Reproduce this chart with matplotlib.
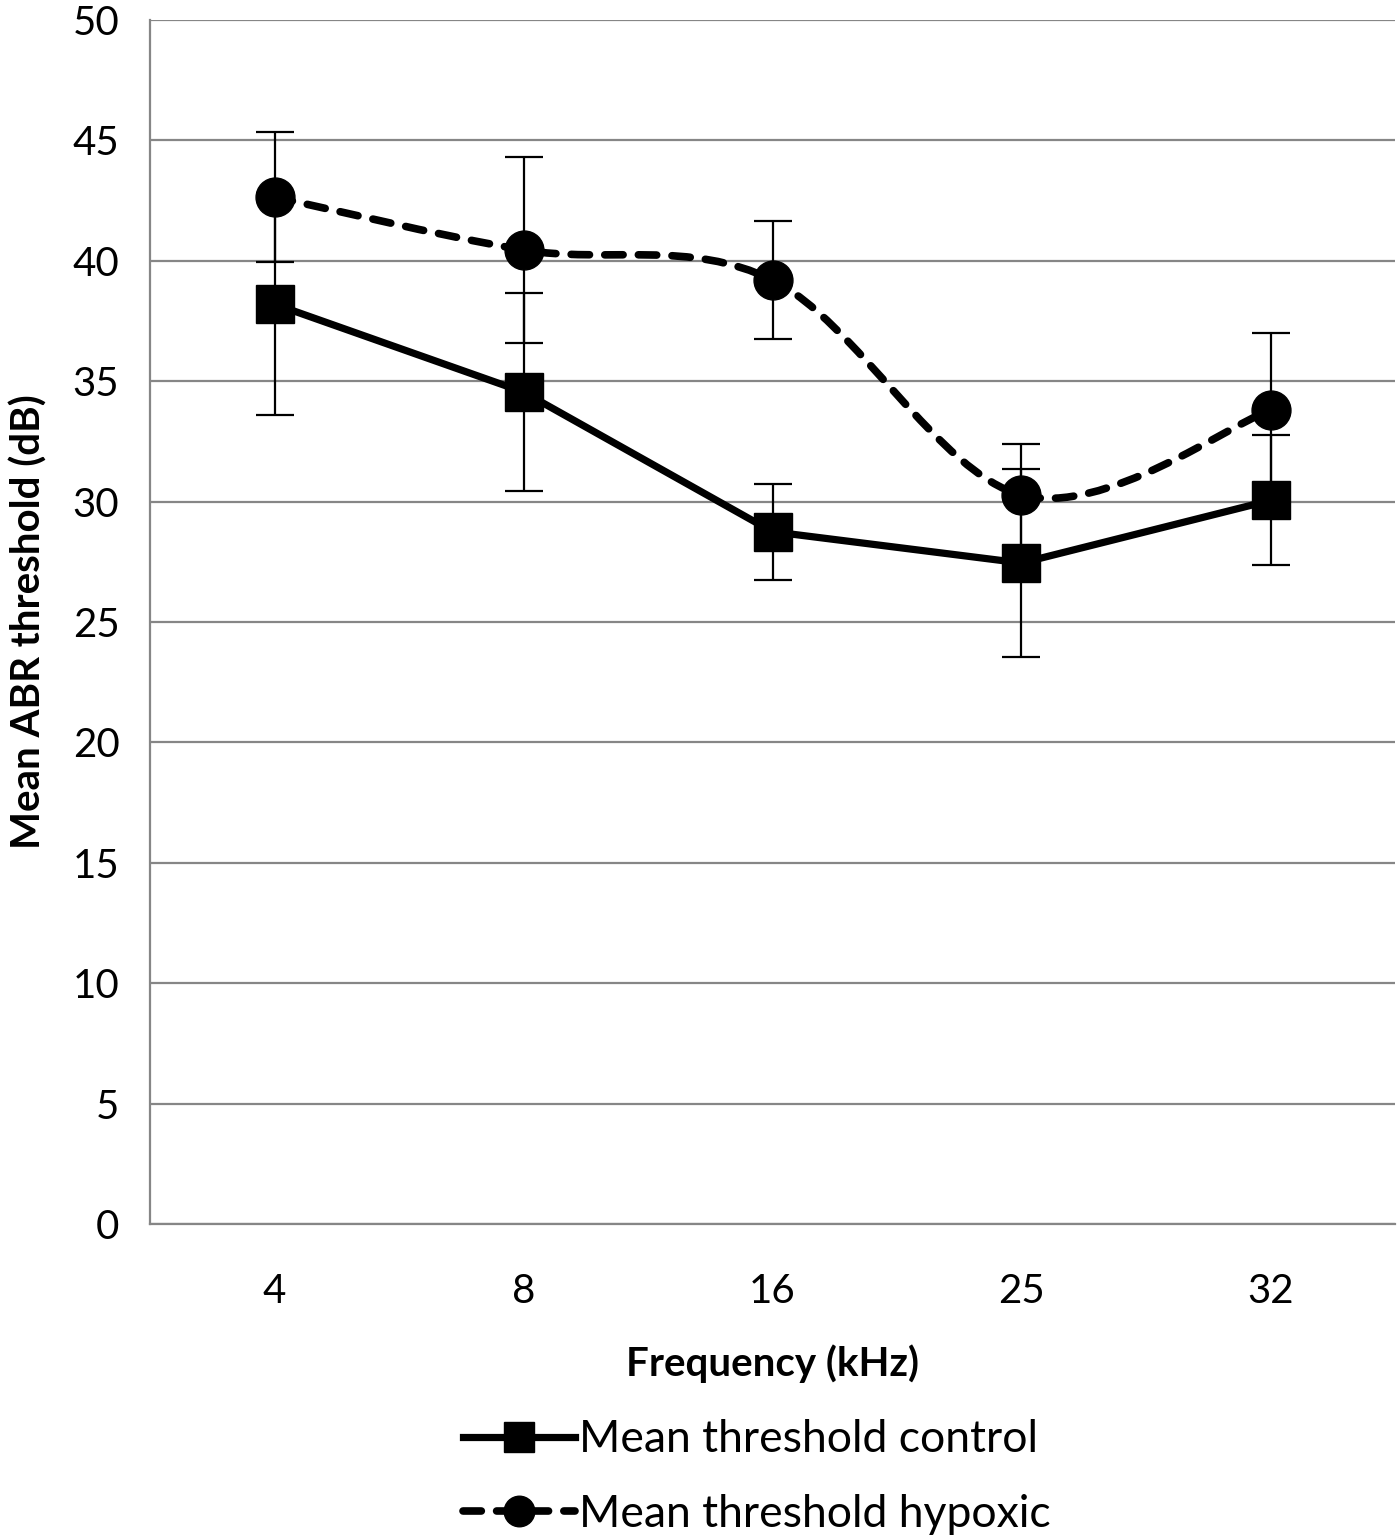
#!/usr/bin/env python
import numpy as np
import matplotlib
matplotlib.use('Agg')
import matplotlib.pyplot as plt
from matplotlib.path import Path
from matplotlib.patches import PathPatch
from matplotlib.lines import Line2D

freqs = ['4', '8', '16', '25', '32']
control_mean = [38.2, 34.55, 28.75, 27.45, 30.05]
control_err = [4.6, 4.1, 2.0, 3.9, 2.7]
hypoxic_mean = [42.65, 40.45, 39.2, 30.27, 33.8]
hypoxic_err = [2.7, 3.85, 2.45, 2.13, 3.2]

plt.rcParams['font.family'] = ['Lato', 'DejaVu Sans']


def smooth_path(xs, ys):
	# bezier through the points, like a smoothed office chart line
	xs = np.asarray(xs, float)
	ys = np.asarray(ys, float)
	px = np.concatenate([[xs[0]], xs, [xs[-1]]])
	py = np.concatenate([[ys[0]], ys, [ys[-1]]])
	verts = [(xs[0], ys[0])]
	codes = [Path.MOVETO]
	for i in range(1, len(xs)):
		c1 = (px[i] + (px[i + 1] - px[i - 1]) / 6., py[i] + (py[i + 1] - py[i - 1]) / 6.)
		c2 = (px[i + 1] - (px[i + 2] - px[i]) / 6., py[i + 1] - (py[i + 2] - py[i]) / 6.)
		verts += [c1, c2, (px[i + 1], py[i + 1])]
		codes += [Path.CURVE4] * 3
	return Path(verts, codes)


fig = plt.figure(figsize=(14, 15.4), dpi=100)
ax = fig.add_axes([150 / 1400., 1 - 1224 / 1540., 1245 / 1400., 1204 / 1540.])

ind = np.arange(len(freqs))
grid_col = '#868686'
dash = (0, (2.4, 2.0))

ax.errorbar(ind, control_mean, yerr=control_err, fmt='none', ecolor='black',
			elinewidth=1.6, capsize=14, capthick=1.6, zorder=3)
ax.errorbar(ind, hypoxic_mean, yerr=hypoxic_err, fmt='none', ecolor='black',
			elinewidth=1.6, capsize=14, capthick=1.6, zorder=3)

ax.plot(ind, control_mean, color='black', lw=5.2, marker='s', markersize=27,
		solid_capstyle='round', zorder=4)

patch = PathPatch(smooth_path(ind, hypoxic_mean), facecolor='none', edgecolor='black',
				  lw=5.5, linestyle=dash, capstyle='round', zorder=4)
ax.add_patch(patch)
ax.plot(ind, hypoxic_mean, linestyle='none', marker='o', markersize=28,
		color='black', zorder=5)

ax.set_xlim(-0.5, len(freqs) - 0.5)
ax.set_ylim(0, 50)
ax.set_yticks(np.arange(0, 51, 5))
ax.set_xticks(ind)
ax.set_xticklabels(freqs)
ax.yaxis.grid(True, color=grid_col, lw=1.6)
ax.set_axisbelow(True)
ax.tick_params(axis='both', length=0, labelsize=29)
ax.tick_params(axis='x', pad=35)
ax.tick_params(axis='y', pad=22)
for side in ['top', 'right']:
	ax.spines[side].set_visible(False)
for side in ['left', 'bottom']:
	ax.spines[side].set_color(grid_col)
	ax.spines[side].set_linewidth(1.6)

ax.set_xlabel('Frequency (kHz)', fontsize=29, fontweight='bold', labelpad=25)
ax.set_ylabel('Mean ABR threshold (dB)', fontsize=29, fontweight='bold', labelpad=18)

# legend below the plot
h1 = Line2D([], [], color='black', lw=5.2, marker='s', markersize=22)
h2 = Line2D([], [], color='black', lw=5.5, marker='o', markersize=22,
			linestyle=dash, dash_capstyle='round')
fig.legend([h1, h2], ['Mean threshold control', 'Mean threshold hypoxic'],
		   loc='center', bbox_to_anchor=(757 / 1400., 1 - 1477 / 1540.),
		   frameon=False, fontsize=32, handlelength=2.5, handletextpad=0.1,
		   labelspacing=0.75)

fig.savefig('out.png', dpi=100)
